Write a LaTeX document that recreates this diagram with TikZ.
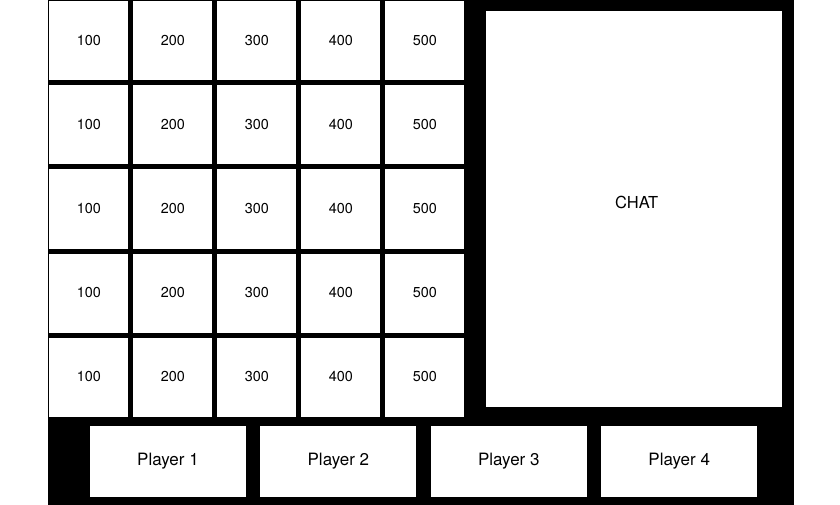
\documentclass[tikz,border=0pt]{standalone}
\usepackage{fontspec}
\setmainfont{TeX Gyre Heros}
\usetikzlibrary{positioning}
\tikzset{
  cell/.style={fill=white, inner sep=0pt, minimum width=79pt, minimum height=79pt, font=\fontsize{14.4}{17}\selectfont},
  player/.style={fill=white, inner sep=0pt, minimum width=156pt, minimum height=70.7pt, font=\fontsize{17}{20}\selectfont},
  chatbox/.style={fill=white, inner sep=0pt, minimum width=296pt, minimum height=395.7pt}
}
\begin{document}
\begin{tikzpicture}[x=1pt,y=-1pt]
 \useasboundingbox (0,0) rectangle (840,505);
 % board
 \fill[black] (48,0) rectangle (793.5,505);
 % cells
 \foreach \r in {1,...,5} {
  \foreach \c/\v in {1/100,2/200,3/300,4/400,5/500} {
   \node[cell] (c\r\c) at ({88.9+84*(\c-1)}, {41+84*(\r-1)}) {\v};
  }
 }
 % chat
 \node[chatbox] (chat) at (634,208.8) {};
 \node[font=\fontsize{16.5}{19}\selectfont, xshift=2.7pt, yshift=6.3pt] (chattext) at (chat.center) {CHAT};
 % players
 \node[player] (p1) at (168,461.3) {Player 1};
 \node[player, right=14pt of p1] (p2) {Player 2};
 \node[player, right=14pt of p2] (p3) {Player 3};
 \node[player, right=14pt of p3] (p4) {Player 4};
\end{tikzpicture}
\end{document}
